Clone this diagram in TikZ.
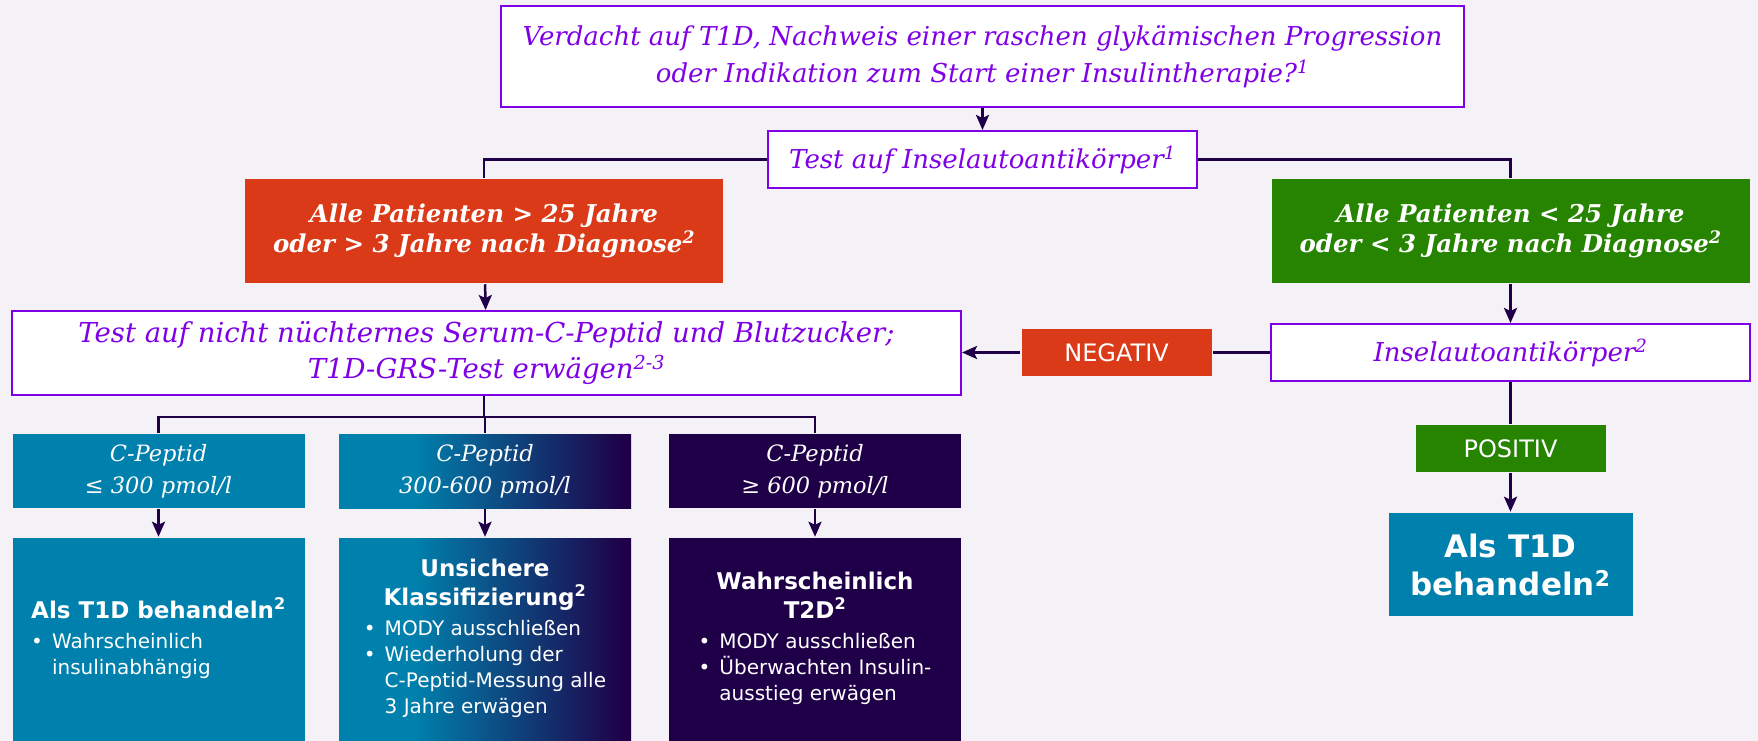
\documentclass[tikz,border=0pt]{standalone}
\usepackage{fontspec}
\setmainfont{DejaVu Serif}
\setsansfont{DejaVu Sans}
\usetikzlibrary{arrows.meta,positioning}
\definecolor{hgrund}{RGB}{244,242,247}
\definecolor{lila}{RGB}{128,0,230}
\definecolor{rotorange}{RGB}{218,58,23}
\definecolor{gruen}{RGB}{38,132,0}
\definecolor{petrol}{RGB}{0,128,172}
\definecolor{dunkel}{RGB}{31,0,72}
% Verlauf petrol -> dunkel
\pgfdeclarehorizontalshading{cpverlauf}{100bp}{color(0bp)=(petrol); color(38bp)=(petrol); color(74bp)=(dunkel); color(100bp)=(dunkel)}
\tikzset{
  frage/.style = {draw=lila, line width=2pt, fill=white, text=lila, align=center,
    inner sep=0pt, font=\fontsize{26}{37}\selectfont\itshape},
  alter/.style = {align=center, text=white, inner sep=0pt, minimum width=478, minimum height=104,
    font=\fontsize{24.5}{30}\selectfont\bfseries\itshape},
  antwort/.style = {text=white, inner sep=0pt, minimum width=190, minimum height=47,
    font=\fontsize{24}{28}\selectfont\sffamily},
  cpbox/.style = {align=center, text=white, inner sep=0pt, minimum width=292, minimum height=74,
    font=\fontsize{22.5}{32}\selectfont\itshape},
  ergebnis/.style = {text=white, inner sep=0pt, minimum width=292, minimum height=203,
    font=\fontsize{20}{26}\selectfont\sffamily},
}
\newcommand{\titel}[1]{\multicolumn{2}{@{}c@{}}{\fontsize{23}{29}\selectfont\bfseries #1}}
\begin{document}
\begin{tikzpicture}[x=1pt,y=-1pt,->,>={Stealth[length=15pt,width=13pt,inset=3pt]},line width=2.5pt,draw=dunkel]
\fill[hgrund] (0,0) rectangle (1758,741);
\useasboundingbox (0,0) rectangle (1758,741);
% Kopf
\node [frage, minimum width=963, minimum height=101] (verdacht) at (982.5,56.5)
  {Verdacht auf T1D, Nachweis einer raschen glykämischen Progression\\
   oder Indikation zum Start einer Insulintherapie?\textsuperscript{1}};
\node [frage, minimum width=429, minimum height=57] (test) at (982.5,159.5)
  {Test auf Inselautoantikörper\textsuperscript{1}};
% Alter
\node [alter, fill=rotorange] (alt) at (484,231)
  {Alle Patienten > 25 Jahre\\ oder > 3 Jahre nach Diagnose\textsuperscript{2}};
\node [alter, fill=gruen] (jung) at (1510.5,231)
  {Alle Patienten < 25 Jahre\\ oder < 3 Jahre nach Diagnose\textsuperscript{2}};
% Tests
\node [frage, minimum width=949, minimum height=84, font=\fontsize{27.5}{36}\selectfont\itshape] (serum) at (486.5,353)
  {Test auf nicht nüchternes Serum-C-Peptid und Blutzucker;\\
   T1D-GRS-Test erwägen\textsuperscript{2-3}};
\node [frage, minimum width=479, minimum height=57] (insel) at (1510.5,352.5)
  {Inselautoantikörper\textsuperscript{2}};
\node [antwort, fill=rotorange] (neg) at (1116.5,352.5) {NEGATIV};
\node [antwort, fill=gruen] (pos) at (1510.5,448.5) {POSITIV};
\node [text=white, fill=petrol, inner sep=0pt, minimum width=244, minimum height=103, align=center,
  font=\fontsize{31}{38}\selectfont\sffamily\bfseries] (t1d) at (1510.5,564.5)
  {Als T1D\\ behandeln\textsuperscript{2}};
% C-Peptid
\node [cpbox, fill=petrol] (cp1) at (158.5,471) {C-Peptid\\ ≤ 300 pmol/l};
\node [cpbox, shading=cpverlauf] (cp2) at (485,471) {C-Peptid\\ 300-600 pmol/l};
\node [cpbox, fill=dunkel] (cp3) at (815,471) {C-Peptid\\ ≥ 600 pmol/l};
\node [ergebnis, fill=petrol] (erg1) at (158.5,639.5)
  {\begin{tabular}{@{}l@{\hspace{9pt}}l@{}}
   \titel{Als T1D behandeln\textsuperscript{2}}\\[4pt]
   • & Wahrscheinlich\\
     & insulinabhängig
   \end{tabular}};
\node [ergebnis, shading=cpverlauf] (erg2) at (485,639.5)
  {\begin{tabular}{@{}l@{\hspace{9pt}}l@{}}
   \titel{Unsichere}\\
   \titel{Klassifizierung\textsuperscript{2}}\\[4pt]
   • & MODY ausschließen\\
   • & Wiederholung der\\
     & C-Peptid-Messung alle\\
     & 3 Jahre erwägen
   \end{tabular}};
\node [ergebnis, fill=dunkel] (erg3) at (815,639.5)
  {\begin{tabular}{@{}l@{\hspace{9pt}}l@{}}
   \titel{Wahrscheinlich}\\
   \titel{T2D\textsuperscript{2}}\\[4pt]
   • & MODY ausschließen\\
   • & Überwachten Insulin-\\
     & ausstieg erwägen
   \end{tabular}};
% Verbindungen
\draw (verdacht) -- (test);
\draw [-] (test.west) -| (alt.north);
\draw [-] (test.east) -| (jung.north);
\draw (alt) -- (serum);
\draw (jung) -- (insel);
\draw [-] (insel) -- (neg);
\draw (neg) -- (serum.east |- neg.west);
\draw [-] (insel) -- (pos);
\draw (pos) -- (t1d);
\coordinate (split) at (484,417);
\draw [-] (serum.south -| split) -- (split);
\draw [-] (cp1.north) |- (split) -| (cp3.north);
\draw [-] (split) -- (split -| cp2.north) -- (cp2.north);
\draw (cp1) -- (erg1);
\draw (cp2) -- (erg2);
\draw (cp3) -- (erg3);
\end{tikzpicture}
\end{document}
